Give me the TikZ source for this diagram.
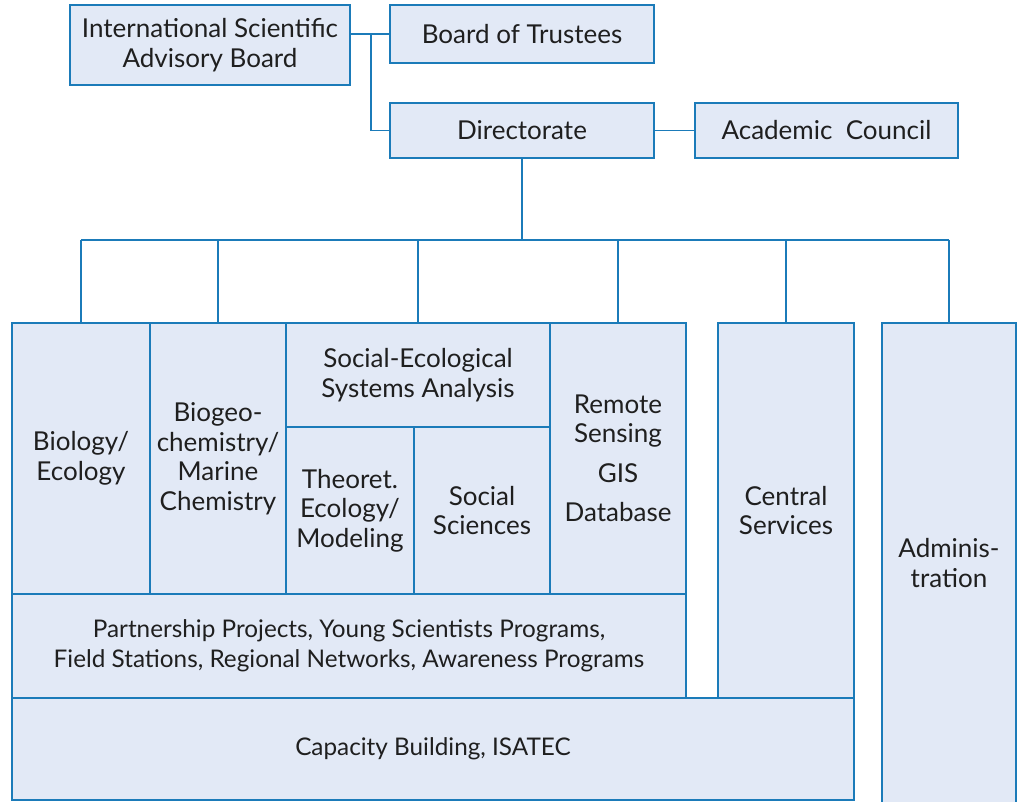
\documentclass[tikz,border=0pt]{standalone}
\usepackage{fontspec}
\setmainfont{Lato}
\definecolor{bordercol}{HTML}{1B7BB9}
\definecolor{fillcol}{HTML}{E2E9F6}
\newcommand{\fs}{\fontsize{26}{29.5}\selectfont}
\newcommand{\fss}{\fontsize{24.3}{29.5}\selectfont}
\tikzset{
  box/.style={draw=bordercol, fill=fillcol, line width=1.8pt, align=center, inner sep=0pt, font=\fs, text=black!88},
  small/.style={font=\fss},
  conn/.style={draw=bordercol, line width=1.8pt}
}
\newcommand{\bx}[7][]{\node[box, #1, minimum width={(#5-#3)*1pt}, minimum height={(#6-#4)*1pt}] (#2) at ({(#3+#5)/2},{(#4+#6)/2}) {#7};}
\begin{document}
\begin{tikzpicture}[x=1pt,y=-1pt]
\useasboundingbox (0,0) rectangle (1018,802);
\bx{isab}{70}{5}{350}{85}{International Scientific\\Advisory Board}
\bx{bot}{390}{5}{654}{63}{Board of Trustees}
\bx{dir}{390}{103}{654}{158}{Directorate}
\bx{ac}{695}{103}{958}{158}{Academic\ \ Council}
% big block
\bx[small]{cap}{12}{698}{854}{800}{Capacity Building, ISATEC}
\bx[small]{part}{12}{594}{686}{698}{Partnership Projects, Young Scientists Programs,\\Field Stations, Regional Networks, Awareness Programs}
\bx{bio}{12}{323}{150}{594}{Biology/\\Ecology}
\bx{bgc}{150}{323}{286}{594}{Biogeo-\\chemistry/\\Marine\\Chemistry}
\bx{sesa}{286}{323}{550}{427}{Social-Ecological\\Systems Analysis}
\bx{theo}{286}{427}{414}{594}{Theoret.\\Ecology/\\Modeling}
\bx{soc}{414}{427}{550}{594}{Social\\Sciences}
\bx{rs}{550}{323}{686}{594}{Remote\\Sensing\\[10pt]GIS\\[10pt]Database}
\bx{cs}{718}{323}{854}{698}{Central\\Services}
\bx{adm}{882}{323}{1016}{803}{Adminis-\\tration}
% connectors
\draw[conn] (isab.east |- bot.west) -- (bot.west);
\coordinate (j) at (371,0);
\draw[conn] (j |- bot.west) |- (dir.west);
\draw[conn] (dir.east) -- (ac.west);
\coordinate (bar) at (0,240);
\draw[conn] (dir.south) -- (dir.south |- bar);
\draw[conn] (bio.north |- bar) -- (adm.north |- bar);
\foreach \n in {bio,bgc,sesa,rs,cs,adm}{
  \draw[conn] (\n.north |- bar) -- (\n.north);
}
\end{tikzpicture}
\end{document}
